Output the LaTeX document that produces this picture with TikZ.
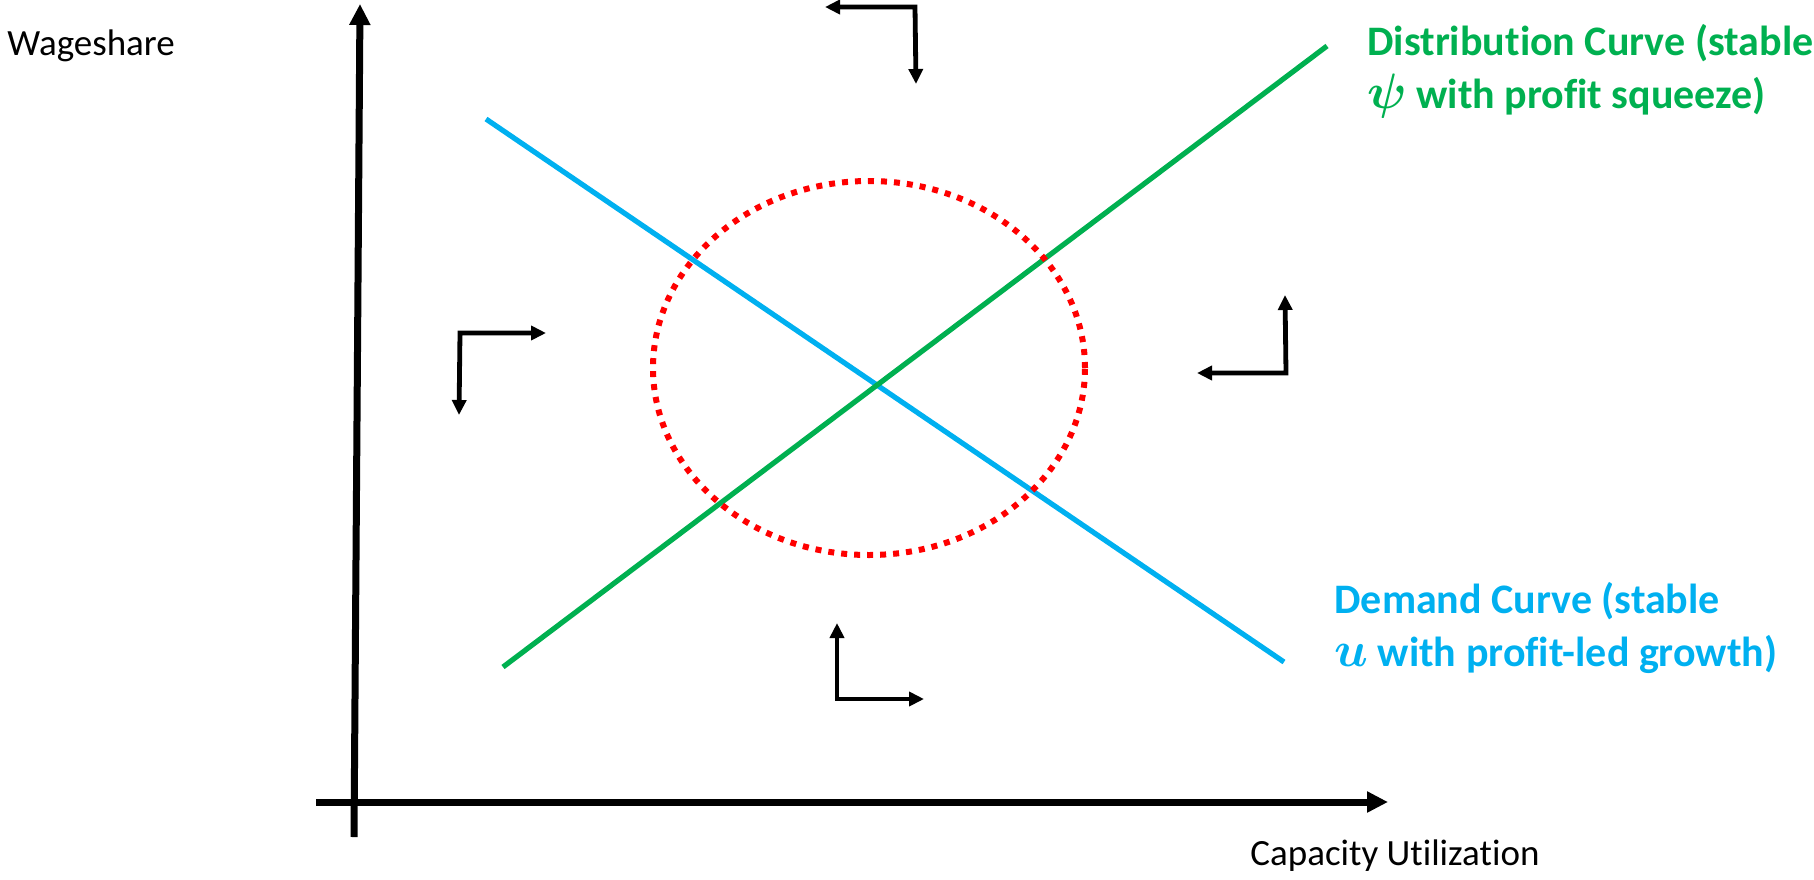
\documentclass[tikz,border=0pt]{standalone}
\usepackage{fontspec}
\setmainfont{Carlito}[Ligatures=NoCommon]
\usetikzlibrary{arrows.meta}
\definecolor{distgreen}{HTML}{00B050}
\definecolor{demblue}{HTML}{00B0F0}
\newcommand{\bigsym}[1]{{\fontsize{24}{26.5}\selectfont$#1$}}

\begin{document}
\begin{tikzpicture}[
  x=0.5pt, y=-0.5pt,
  axis/.style={line width=3.5pt, -{Triangle[length=10.5pt,width=10pt]}},
  curve/.style={line width=2.6pt, draw=#1},
  flow/.style={line width=2.4pt,
               {Triangle[length=7.5pt,width=7pt]}-{Triangle[length=7.5pt,width=7pt]}},
  ring/.style={draw=red, line width=3pt, dash pattern=on 3pt off 3.5pt},
  axlbl/.style={font=\fontsize{18.5}{22}\selectfont, inner sep=0pt, anchor=base west},
  crvlbl/.style={font=\bfseries\boldmath\fontsize{21}{26.5}\selectfont, text=#1, inner sep=0pt,
                 align=left, anchor=north west},
]
\useasboundingbox (0,0) rectangle (1814,879);

% ================= COORDINATES (px of the reference) =================
\coordinate (yorg)  at (354,837);
\coordinate (ytop)  at (360,4);
\coordinate (xorg)  at (316,802);
\coordinate (xend)  at (1388,802);

\coordinate (demA)  at (486,119);
\coordinate (demB)  at (1284,662);
\coordinate (distA) at (503,667);
\coordinate (distB) at (1327,46);

\coordinate (eqm)   at (869,368);

% L-shaped adjustment arrows: tip -- corner -- tip
\coordinate (topT1) at (825,7);    \coordinate (topC) at (915,7);    \coordinate (topT2) at (916,84);
\coordinate (lftT1) at (546,333);  \coordinate (lftC) at (460,333);  \coordinate (lftT2) at (459,415);
\coordinate (rgtT1) at (1197,373); \coordinate (rgtC) at (1286,373); \coordinate (rgtT2) at (1285,295);
\coordinate (botT1) at (837,623);  \coordinate (botC) at (837,699);  \coordinate (botT2) at (924,699);

% ================= LABELS =================
\node[axlbl] (wlbl) at (7,55)     {Wageshare};
\node[axlbl] (ulbl) at (1250,865) {Capacity Utilization};

\node[crvlbl=distgreen] (distlbl) at (1367,24)
  {Distribution Curve (stable\\\bigsym{\psi} with profit squeeze)};
\node[crvlbl=demblue]   (demlbl)  at (1334,582)
  {Demand Curve (stable\\\bigsym{u} with profit-led growth)};

% ================= CURVES =================
\draw[curve=demblue]   (demA) -- (demB);
\draw[curve=distgreen] (distA) -- (distB);
\draw[ring] (eqm) ellipse [x radius=108pt, y radius=93.5pt];

% ================= AXES =================
\draw[axis] (yorg) -- (ytop);
\draw[axis] (xorg) -- (xend);

% ================= ARROWS =================
\draw[flow] (topT1) -- (topC) -- (topT2);
\draw[flow] (lftT1) -- (lftC) -- (lftT2);
\draw[flow] (rgtT1) -- (rgtC) -- (rgtT2);
\draw[flow] (botT1) -- (botC) -- (botT2);

\end{tikzpicture}
\end{document}
